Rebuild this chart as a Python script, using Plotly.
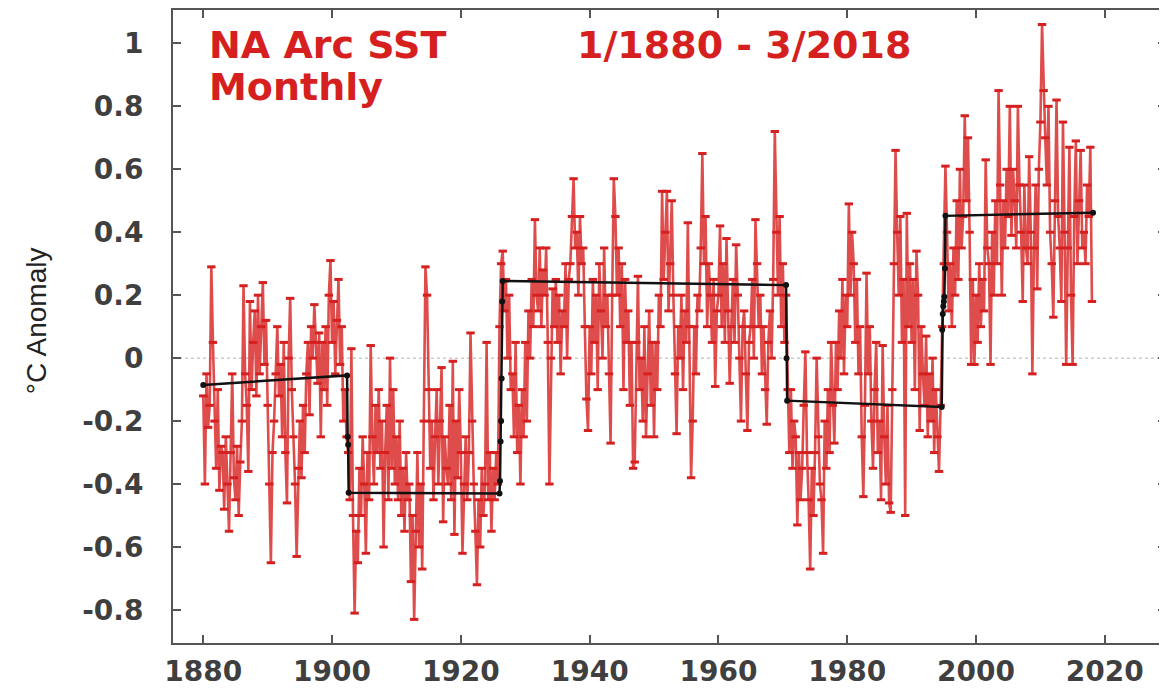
import plotly.graph_objects as go

# ---------------- data (quarterly samples) ----------------
start_year = 1880.0
samples_per_year = 4

sst_1880_1901 = [
    -0.12, -0.40, -0.05, -0.22,
    -0.15, 0.29, 0.05, -0.20,
    -0.35, -0.10, -0.42, -0.28,
    -0.30, -0.48, -0.25, -0.40,
    -0.55, -0.30, -0.05, -0.38,
    -0.45, -0.28, -0.50, -0.33,
    -0.20, 0.23, -0.05, -0.15,
    -0.36, 0.18, -0.10, 0.05,
    0.15, -0.12, 0.20, -0.05,
    0.10, 0.24, -0.02, 0.12,
    -0.15, -0.40, -0.65, -0.30,
    -0.20, -0.05, 0.10, -0.12,
    -0.02, -0.25, 0.05, -0.30,
    -0.46, 0.00, 0.19, -0.10,
    -0.25, -0.40, -0.63, -0.35,
    -0.20, -0.38, -0.15, -0.30,
    -0.05, 0.05, -0.18, 0.10,
    0.00, 0.17, 0.05, -0.08,
    0.08, -0.25, 0.05, -0.10,
    0.10, -0.15, 0.20, 0.31,
    0.05, 0.18, -0.05, 0.12,
    0.25, -0.02, 0.10, -0.20,
]
sst_1902_1925 = [
    -0.10, -0.25, -0.30, -0.45,
    0.03, -0.50, -0.81, -0.55,
    -0.65, -0.35, -0.50, -0.25,
    -0.40, -0.62, -0.30, -0.45,
    0.04, -0.25, -0.40, -0.15,
    -0.30, -0.10, -0.35, -0.20,
    -0.60, -0.30, -0.15, -0.45,
    0.00, -0.35, -0.10, -0.40,
    -0.25, -0.45, -0.20, -0.50,
    -0.35, -0.55, -0.30, -0.45,
    -0.40, -0.71, -0.50, -0.83,
    -0.55, -0.30, -0.60, -0.40,
    -0.67, -0.20, 0.29, 0.20,
    -0.10, -0.35, -0.20, -0.45,
    -0.25, -0.10, -0.40, -0.20,
    -0.03, -0.52, -0.25, -0.35,
    -0.40, -0.15, -0.45, -0.01,
    -0.56, -0.20, -0.38, -0.10,
    -0.30, -0.62, -0.40, -0.25,
    -0.45, -0.30, 0.08, -0.20,
    -0.40, -0.55, -0.72, -0.45,
    -0.60, -0.35, -0.50, -0.40,
    0.05, -0.45, -0.30, -0.55,
    -0.35, -0.45, -0.30, -0.40,
]
sst_1926_1970 = [
    0.10, 0.30, 0.34, 0.15,
    0.25, 0.00, 0.20, -0.10,
    -0.05, -0.25, 0.05, -0.30,
    -0.15, -0.40, -0.10, -0.25,
    0.05, -0.20, 0.15, 0.00,
    0.25, 0.10, 0.44, 0.20,
    0.15, 0.35, 0.10, 0.28,
    0.20, 0.35, 0.05, -0.40,
    0.00, 0.22, 0.10, 0.25,
    0.05, 0.20, -0.05, 0.15,
    0.10, 0.30, 0.00, 0.25,
    0.30, 0.45, 0.57, 0.35,
    0.40, 0.20, 0.45, 0.30,
    0.35, 0.10, -0.13, -0.23,
    0.10, -0.05, 0.25, 0.05,
    0.20, -0.10, 0.30, 0.15,
    0.00, 0.35, 0.10, 0.20,
    -0.05, -0.27, 0.20, 0.57,
    0.45, 0.20, 0.35, 0.10,
    0.30, -0.10, 0.25, 0.05,
    0.15, -0.15, 0.05, -0.35,
    -0.33, 0.05, 0.26, -0.10,
    0.00, -0.20, 0.10, -0.25,
    -0.05, 0.15, -0.15, 0.05,
    -0.25, 0.05, -0.10, 0.20,
    0.10, 0.53, 0.25, 0.40,
    0.53, 0.15, 0.30, 0.50,
    0.20, -0.05, -0.24, 0.10,
    0.00, 0.20, -0.10, 0.15,
    0.05, 0.43, 0.10, -0.38,
    -0.20, 0.10, -0.05, 0.20,
    0.15, 0.35, 0.65, 0.30,
    0.45, 0.10, 0.30, 0.20,
    0.05, 0.25, -0.09, 0.15,
    0.20, 0.42, 0.10, 0.30,
    0.05, 0.38, 0.15, -0.08,
    0.10, 0.25, 0.05, 0.36,
    0.20, 0.00, -0.20, 0.10,
    0.15, -0.05, -0.23, 0.05,
    0.10, 0.25, 0.00, 0.44,
    0.30, 0.10, 0.20, -0.05,
    0.10, -0.10, -0.21, 0.05,
    0.15, 0.00, 0.25, 0.72,
    0.40, 0.20, 0.45, 0.10,
    0.30, 0.05, 0.20, -0.10,
]
sst_1971_1994 = [
    -0.30, -0.10, -0.35, -0.20,
    -0.25, -0.53, -0.30, -0.45,
    -0.35, -0.15, 0.02, -0.30,
    -0.45, -0.67, -0.35, -0.50,
    -0.30, 0.00, -0.25, -0.40,
    -0.45, -0.62, -0.20, -0.35,
    -0.10, -0.30, 0.05, -0.15,
    -0.27, 0.05, -0.10, 0.15,
    0.00, 0.25, -0.05, 0.20,
    0.10, 0.49, 0.20, 0.40,
    0.30, 0.05, 0.25, -0.05,
    0.10, -0.25, -0.44, -0.15,
    0.27, -0.05, 0.10, -0.20,
    -0.35, -0.10, 0.05, -0.30,
    -0.20, -0.45, 0.04, -0.25,
    -0.40, -0.15, -0.46, -0.49,
    -0.10, 0.30, 0.66, 0.40,
    0.20, 0.45, 0.05, 0.25,
    -0.50, 0.46, 0.10, 0.30,
    0.05, 0.25, -0.10, 0.34,
    0.20, -0.23, 0.10, -0.05,
    -0.15, 0.07, -0.25, -0.05,
    -0.20, 0.00, -0.30, -0.10,
    -0.25, -0.36, -0.15, 0.10,
]
sst_1995_2018 = [
    0.30, 0.61, 0.40, 0.15,
    0.30, 0.10, 0.35, 0.20,
    0.50, 0.25, 0.60, 0.35,
    0.45, 0.77, 0.50, 0.70,
    0.40, -0.02, 0.25, -0.02,
    0.20, 0.05, 0.30, 0.10,
    0.25, 0.15, 0.63, 0.35,
    0.30, -0.02, 0.40, 0.20,
    0.50, 0.30, 0.85, 0.55,
    0.20, 0.50, 0.35, 0.60,
    0.45, 0.80, 0.39, 0.60,
    0.50, 0.35, 0.80, 0.55,
    0.40, 0.18, 0.55, 0.35,
    0.30, 0.64, 0.40, -0.05,
    0.35, 0.55, 0.22, 0.60,
    0.75, 1.06, 0.85, 0.70,
    0.55, 0.80, 0.40, 0.30,
    0.13, 0.50, 0.82, 0.45,
    0.35, 0.18, 0.75, 0.40,
    -0.02, 0.35, 0.67, 0.20,
    -0.02, 0.45, 0.69, 0.30,
    0.50, 0.66, 0.35, 0.40,
    0.30, 0.55, 0.45, 0.67,
    0.18,
]

# regime (step) line
regime_x = [1880.0, 1902.33, 1902.42, 1902.5, 1902.58,
            1926.0, 1926.08, 1926.17, 1926.25, 1926.33, 1926.42, 1926.5,
            1970.5, 1970.58, 1970.67,
            1994.67, 1994.75, 1994.83, 1994.92, 1995.0, 1995.08, 1995.17, 1995.25,
            2018.17]
regime_y = [-0.085, -0.055, -0.25, -0.275, -0.428,
            -0.43, -0.39, -0.265, -0.20, -0.065, 0.18, 0.245,
            0.232, 0.0, -0.135,
            -0.155, 0.09, 0.14, 0.165, 0.18, 0.195, 0.285, 0.452,
            0.462]

x_tick_vals = [1880, 1900, 1920, 1940, 1960, 1980, 2000, 2020]
y_tick_vals = [-0.8, -0.6, -0.4, -0.2, 0, 0.2, 0.4, 0.6, 0.8, 1]
y_tick_text = ["-0.8", "-0.6", "-0.4", "-0.2", "0", "0.2", "0.4", "0.6", "0.8", "1"]

title_left = "NA Arc SST"
title_right = "1/1880 - 3/2018"
title_line2 = "Monthly"
y_title = "°C Anomaly"

# ---------------- figure ----------------
sst = sst_1880_1901 + sst_1902_1925 + sst_1926_1970 + sst_1971_1994 + sst_1995_2018
sst_x = [start_year + i / samples_per_year for i in range(len(sst))]

RED = "#d61f1f"
AXC = "#555555"
TXT = "#3f3f3f"

fig = go.Figure()
fig.add_shape(type="line", xref="paper", yref="y", x0=0, x1=1, y0=0, y1=0,
              line=dict(color="#b0b0b0", width=1, dash="dot"), layer="below")
fig.add_trace(go.Scatter(
    x=sst_x, y=sst, mode="lines+markers",
    line=dict(color="rgba(216,36,36,0.82)", width=2.6),
    marker=dict(color=RED, size=6, symbol="line-ew", line=dict(color=RED, width=3)),
    hoverinfo="skip", showlegend=False))
fig.add_trace(go.Scatter(
    x=regime_x, y=regime_y, mode="lines+markers",
    line=dict(color="#111111", width=2.5),
    marker=dict(color="#111111", size=6),
    hoverinfo="skip", showlegend=False))

tfont = dict(family="DejaVu Sans", size=38, color=RED, weight="bold")
fig.add_annotation(text=title_left, xref="paper", yref="paper", x=0.034, y=0.944,
                   xanchor="left", yanchor="middle", showarrow=False, font=tfont)
fig.add_annotation(text=title_right, xref="paper", yref="paper", x=0.405, y=0.944,
                   xanchor="left", yanchor="middle", showarrow=False, font=tfont)
fig.add_annotation(text=title_line2, xref="paper", yref="paper", x=0.034, y=0.879,
                   xanchor="left", yanchor="middle", showarrow=False, font=tfont)
fig.add_annotation(text=y_title, xref="paper", yref="paper", x=-0.138, y=0.51,
                   xanchor="center", yanchor="middle", textangle=-90, showarrow=False,
                   font=dict(family="Liberation Sans Narrow, Liberation Sans, Arial", size=28, color="#222222"))

tick_font = dict(family="DejaVu Sans", size=28, color=TXT, weight="bold")
fig.update_xaxes(range=[1875.3, 2029.5], tickvals=x_tick_vals, ticks="inside", ticklen=8,
                 tickwidth=2, tickcolor=AXC, showline=True, linecolor=AXC, linewidth=2,
                 mirror="ticks", showgrid=False, zeroline=False, tickfont=tick_font,
                 ticklabelstandoff=2, automargin=False)
fig.update_yaxes(range=[-0.905, 1.106], tickvals=y_tick_vals, ticktext=y_tick_text,
                 ticks="inside", ticklen=8, tickwidth=2, tickcolor=AXC, showline=True,
                 linecolor=AXC, linewidth=2, mirror="ticks", showgrid=False, zeroline=False,
                 tickfont=tick_font, ticklabelstandoff=22, automargin=False)
# the page body adds an 8px offset, so the figure is sized to the remaining area
fig.update_layout(width=1159, height=680, margin=dict(l=165, r=1, t=2, b=45),
                  plot_bgcolor="white", paper_bgcolor="white")

fig.write_html("out.html")
